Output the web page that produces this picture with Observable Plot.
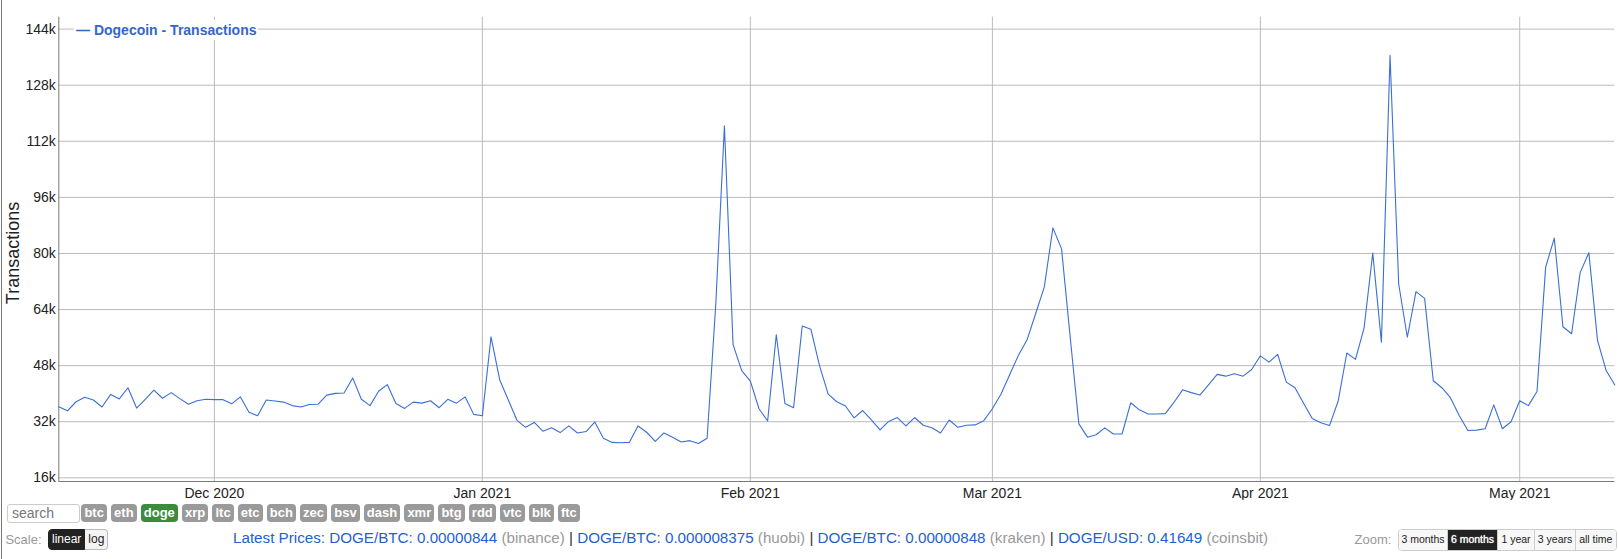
<!DOCTYPE html>
<html>
<head>
<meta charset="utf-8">
<script src="https://cdn.jsdelivr.net/npm/d3@7"></script>
<script src="https://cdn.jsdelivr.net/npm/@observablehq/plot@0.6"></script>
<style>
  html, body { margin: 0; padding: 0; background: #fff; }
  #page { position: relative; width: 1618px; height: 559px; overflow: hidden;
          font-family: "Liberation Sans", Arial, sans-serif; }
  #chart { position: absolute; left: 0; top: 0; }
  .abs { position: absolute; white-space: nowrap; }
  #legend { left: 74px; top: 19.6px; height: 20px; line-height: 20px; padding: 0 2px;
            background: #fff; color: #3366cc; font-weight: bold; font-size: 14px; }
  #ytitle { left: -87.35px; top: 244px; width: 200px; height: 18px; line-height: 18px;
            text-align: center; font-size: 18px; color: #222; transform: rotate(-90deg); }
  #search { left: 7px; top: 504px; width: 67px; height: 17px; border: 1px solid #ccc;
            border-radius: 3px; font-size: 14px; line-height: 17px; color: #777; padding-left: 4px; box-sizing: content-box; }
  #coins { left: 81.4px; top: 504px; display: flex; gap: 4.2px; }
  .coin { height: 18px; line-height: 18px; padding: 0 3px; border-radius: 4px; background: #9a9a9a;
          color: #fff; font-weight: bold; font-size: 13px; }
  .coin.active { background: #3d8b3d; }
  #scaleLbl { left: 5.4px; top: 531.5px; font-size: 13px; line-height: 16px; color: #999; }
  #scaleBtns { left: 48px; top: 529.3px; display: flex; height: 21px; }
  .sbtn { height: 19px; line-height: 19px; font-size: 12px; padding: 0 3px; border: 1px solid #bbb; }
  .sbtn.on { background: #222; color: #fff; border-color: #222; border-radius: 4px 0 0 4px; }
  .sbtn.off { background: #f4f4f4; color: #222; border-left: none; border-radius: 0 4px 4px 0; }
  #prices { left: 233px; top: 530.3px; font-size: 15.2px; line-height: 16px; color: #1f5fcf; }
  #prices .ex { color: #999; }
  #prices .sep { color: #333; }
  #zoomLbl { left: 1354.5px; top: 531.5px; font-size: 13px; line-height: 16px; color: #999; }
  #zoomBtns { left: 1398px; top: 529.3px; display: flex; height: 21.4px; border: 1px solid #ccc;
              border-radius: 4px; box-sizing: border-box; overflow: hidden; }
  .zbtn { height: 19.4px; line-height: 19.4px; font-size: 10.5px; color: #222; background: #f7f7f7;
          border-right: 1px solid #ccc; text-align: center; box-sizing: border-box; }
  .zbtn:last-child { border-right: none; }
  .zbtn.on { background: #222; color: #fff; text-shadow: 0 0 1px #fff; }
  #lborder { left: 1px; top: 0; width: 1px; height: 559px; background: #777; }
</style>
</head>
<body>
<div id="page">
  <div id="chart"></div>
  <div id="lborder" class="abs"></div>
  <div id="legend" class="abs"></div>
  <div id="ytitle" class="abs"></div>
  <div id="search" class="abs"></div>
  <div id="coins" class="abs"></div>
  <div id="scaleLbl" class="abs"></div>
  <div id="scaleBtns" class="abs"></div>
  <div id="prices" class="abs"></div>
  <div id="zoomLbl" class="abs"></div>
  <div id="zoomBtns" class="abs"></div>
</div>
<script>
// ---------------- data ----------------
const seriesName = "Dogecoin - Transactions";
const yAxisTitle = "Transactions";
const startDay = "2020-11-13"; // first daily point; one value per day through 2021-05-12
const transactions = [
  36300, 35100, 37700, 39000, 38200, 36200, 39800, 38500, 41700, 35900,
  38400, 41000, 38700, 40300, 38600, 37000, 38000, 38400, 38300, 38300,
  37100, 39100, 34700, 33700, 38200, 37900, 37600, 36600, 36200, 36900,
  37000, 39600, 40100, 40200, 44500, 38400, 36600, 40700, 42600, 37200,
  35800, 37600, 37300, 38000, 36000, 38400, 37300, 39100, 34100, 33700,
  56200, 44000, 38200, 32400, 30400, 31800, 29300, 30300, 28900, 30800,
  28800, 29200, 31900, 27300, 26100, 26000, 26100, 30800, 29000, 26400,
  28800, 27600, 26200, 26600, 25800, 27300, 65500, 116400, 54000, 46600,
  43600, 35700, 32200, 56800, 37200, 36000, 59300, 58400, 48000, 39900,
  37700, 36500, 33100, 35200, 32500, 29700, 32100, 33200, 30800, 33200,
  31000, 30300, 28800, 32500, 30400, 31000, 31100, 32300, 35700, 39900,
  45400, 50900, 55300, 62800, 70400, 87300, 81300, 56100, 31400, 27600,
  28300, 30250, 28500, 28500, 37400, 35400, 34200, 34200, 34300, 37500,
  41100, 40300, 39600, 42500, 45500, 45000, 45700, 45000, 46900, 50800,
  49000, 51200, 43300, 41700, 37300, 32900, 31700, 30900, 37900, 51600,
  49800, 58800, 80100, 54700, 136500, 71300, 56100, 69100, 67200, 43700,
  41700, 38800, 33800, 29500, 29600, 30000, 36800, 30000, 32000, 38000,
  36600, 40600, 76100, 84400, 59100, 57100, 74600, 80200, 55200, 46600,
  42500
];
const xDomainDays = ["2020-11-13", "2021-05-12"];
const yDomain = [14950, 147400];
const yTicks = [16000, 32000, 48000, 64000, 80000, 96000, 112000, 128000, 144000];
const monthTickDays = ["2020-12-01", "2021-01-01", "2021-02-01", "2021-03-01", "2021-04-01", "2021-05-01"];
const monthTickLabels = ["Dec 2020", "Jan 2021", "Feb 2021", "Mar 2021", "Apr 2021", "May 2021"];
const coins = ["btc","eth","doge","xrp","ltc","etc","bch","zec","bsv","dash","xmr","btg","rdd","vtc","blk","ftc"];
const activeCoin = "doge";
const searchPlaceholder = "search";
const scaleLabel = "Scale:";
const scaleOptions = ["linear", "log"];
const priceLabel = "Latest Prices:";
const pricePairs = ["DOGE/BTC", "DOGE/BTC", "DOGE/BTC", "DOGE/USD"];
const priceValues = ["0.00000844", "0.000008375", "0.00000848", "0.41649"];
const priceExchanges = ["binance", "huobi", "kraken", "coinsbit"];
const zoomLabel = "Zoom:";
const zoomOptions = ["3 months", "6 months", "1 year", "3 years", "all time"];
const zoomActive = "6 months";
const zoomWidths = [49, 50, 37, 41, 39.6];

// ---------------- chart ----------------
const day0 = d3.utcParse("%Y-%m-%d")(startDay);
const data = transactions.map((v, i) => ({ date: d3.utcDay.offset(day0, i), value: v }));
const parse = d3.utcParse("%Y-%m-%d");
const xDomain = xDomainDays.map(parse);
const monthTicks = monthTickDays.map(parse);
const labelByTime = new Map(monthTicks.map((d, i) => [+d, monthTickLabels[i]]));

const chart = Plot.plot({
  width: 1618,
  height: 500,
  marginLeft: 58.3,
  marginRight: 3.7,
  marginTop: 16.7,
  marginBottom: 19,
  style: { fontFamily: "'Liberation Sans', Arial, sans-serif", fontSize: "14px", color: "#222", background: "transparent" },
  x: { type: "utc", domain: xDomain },
  y: { domain: yDomain },
  marks: [
    Plot.gridX(monthTicks, { stroke: "#bbb", strokeOpacity: 1 }),
    Plot.gridY(yTicks, { stroke: "#bbb", strokeOpacity: 1 }),
    Plot.ruleX([xDomain[0]], { stroke: "#7a7a7a" }),
    Plot.ruleY([yDomain[0]], { stroke: "#7a7a7a" }),
    Plot.lineY(data, { x: "date", y: "value", stroke: "#3a6fd6", strokeWidth: 1.1 }),
    Plot.axisY(yTicks, { tickSize: 0, tickPadding: 3, tickFormat: d => d / 1000 + "k", label: null, fontSize: 14 }),
    Plot.axisX(monthTicks, { tickSize: 0, tickPadding: 7, tickFormat: d => labelByTime.get(+d), label: null, fontSize: 14 })
  ]
});
document.getElementById("chart").appendChild(chart);

// ---------------- surrounding text ----------------
document.getElementById("legend").textContent = "\u2014 " + seriesName;
document.getElementById("ytitle").textContent = yAxisTitle;
document.getElementById("search").textContent = searchPlaceholder;
const coinsEl = document.getElementById("coins");
coins.forEach(c => {
  const s = document.createElement("div");
  s.className = "coin" + (c === activeCoin ? " active" : "");
  s.textContent = c;
  coinsEl.appendChild(s);
});
document.getElementById("scaleLbl").textContent = scaleLabel;
const sb = document.getElementById("scaleBtns");
scaleOptions.forEach((o, i) => {
  const s = document.createElement("div");
  s.className = "sbtn " + (i === 0 ? "on" : "off");
  s.textContent = o;
  sb.appendChild(s);
});
const pr = document.getElementById("prices");
let html = priceLabel + " ";
pricePairs.forEach((p, i) => {
  if (i > 0) html += ' <span class="sep">|</span> ';
  html += p + ": " + priceValues[i] + ' <span class="ex">(' + priceExchanges[i] + ")</span>";
});
pr.innerHTML = html;
document.getElementById("zoomLbl").textContent = zoomLabel;
const zb = document.getElementById("zoomBtns");
zoomOptions.forEach((o, i) => {
  const s = document.createElement("div");
  s.className = "zbtn" + (o === zoomActive ? " on" : "");
  s.style.width = zoomWidths[i] + "px";
  s.textContent = o;
  zb.appendChild(s);
});
</script>
</body>
</html>
